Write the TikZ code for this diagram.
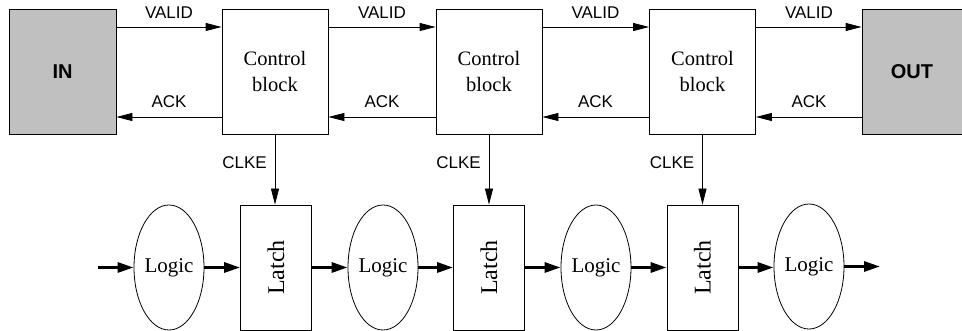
\documentclass[tikz,border=0pt]{standalone}
\usepackage{fontspec}
\setmainfont{Liberation Serif}
\setsansfont{Liberation Sans}
\usetikzlibrary{arrows.meta,shapes.geometric}
\definecolor{portgray}{RGB}{192,192,192}
\tikzset{
  every picture/.style={x=1pt,y=-1pt},
  ctrl/.style={draw,line width=0.8pt,minimum width=106pt,minimum height=125pt,
    inner sep=0pt,align=center,font=\fontsize{20.5}{26}\selectfont},
  port/.style={draw,line width=0.8pt,fill=portgray,minimum height=125pt,
    inner sep=0pt,font=\sffamily\bfseries\fontsize{20}{24}\selectfont},
  latchbox/.style={draw,line width=0.8pt,minimum width=71pt,minimum height=125pt,
    inner sep=0pt},
  logic/.style={draw,line width=0.8pt,ellipse,minimum width=70pt,minimum height=125pt,
    inner sep=0pt,font=\fontsize{21}{24}\selectfont},
  sig/.style={font=\sffamily\fontsize{17}{20}\selectfont,inner sep=0pt},
  thin arrow/.style={line width=0.8pt,-{Triangle[length=16pt,width=8pt]}},
  data arrow/.style={line width=3pt,-{Triangle[length=16pt,width=10pt]}},
}
\begin{document}
\begin{tikzpicture}
\useasboundingbox (0,0) rectangle (962,331);

% handshake ends
\node[port,minimum width=107pt] (in) at (62.5,71.5) {IN};
\node[port,minimum width=110pt] (out) at (917,71.5) {\hspace*{-10pt}OUT};

% control blocks
\node[ctrl] (c1) at (275,71.5) {Control\\block};
\node[ctrl] (c2) at (489,71.5) {Control\\block};
\node[ctrl] (c3) at (702.5,71.5) {Control\\block};

% datapath: logic clouds and latches
\node[logic] (l1) at (169,267.5) {Logic};
\node[latchbox] (t1) at (276,267.5) {\rotatebox{90}{\fontsize{24}{26}\selectfont Latch}};
\node[logic] (l2) at (383,267.5) {Logic};
\node[latchbox] (t2) at (489,267.5) {\rotatebox{90}{\fontsize{24}{26}\selectfont Latch}};
\node[logic] (l3) at (596,267.5) {Logic};
\node[latchbox] (t3) at (702.5,267.5) {\rotatebox{90}{\fontsize{24}{26}\selectfont Latch}};
\node[logic] (l4) at (809,266.5) {Logic};

\coordinate (din) at (98,267.5);
\coordinate (dout) at (880,266.5);

% VALID forward, ACK backward
\foreach \a/\b/\mx in {in/c1/169, c1/c2/382, c2/c3/595.5, c3/out/809}{
  \draw[thin arrow] (\a.east |- 0,27) -- (\b.west |- 0,27);
  \node[sig] at (\mx,13) {VALID};
  \draw[thin arrow] (\b.west |- 0,117) -- (\a.east |- 0,117);
  \node[sig] at (\mx,102) {ACK};
}

% clock enables
\foreach \c/\t in {c1/t1, c2/t2, c3/t3}{
  \draw[thin arrow] (\c.south) -- (\c.south |- \t.north);
  \node[sig,anchor=east] at ([xshift=-8pt]\c.south |- 0,163) {CLKE};
}

% data flow
\draw[data arrow] (din) -- (l1.west);
\draw[data arrow] (l1.east) -- (t1.west |- l1.east);
\draw[data arrow] (t1.east) -- (l2.west);
\draw[data arrow] (l2.east) -- (t2.west);
\draw[data arrow] (t2.east) -- (l3.west);
\draw[data arrow] (l3.east) -- (t3.west);
\draw[data arrow] (t3.east) -- (l4.west |- t3.east);
\draw[data arrow] (l4.east) -- (dout);
\end{tikzpicture}
\end{document}
